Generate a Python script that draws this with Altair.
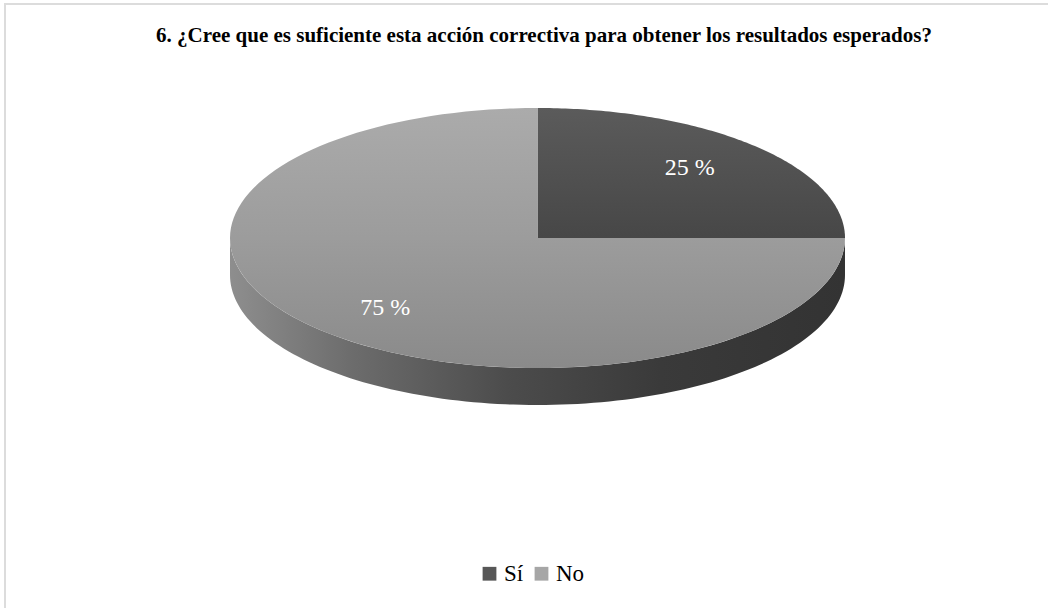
import altair as alt
import pandas as pd

# ---- data ----
title_text = "6. ¿Cree que es suficiente esta acción correctiva para obtener los resultados esperados?"
categories = ["Sí", "No"]
values = [25, 75]
legend_colors = ["#575757", "#a6a6a6"]

# ---- geometry of the 3-D pie (pixel-like data space) ----
W, H = 1048, 608
CX, CY, A, B, DEPTH = 537.5, 238, 307.5, 130, 37
N = 120
LX, LY = 0.70, 0.76

xs = alt.Scale(domain=[0, W], nice=False, zero=False)
ys = alt.Scale(domain=[0, H], nice=False, zero=False, reverse=True)

slices = pd.DataFrame({"cat": categories, "pct": values, "ord": list(range(len(categories)))})

base = (
    alt.Chart(slices)
    .transform_window(cum="sum(pct)", sort=[alt.SortField("ord")])
    .transform_calculate(start="datum.cum - datum.pct")
)

grad_top = {
    "Sí": alt.LinearGradient(gradient="linear", x1=0, x2=0, y1=0, y2=1,
                             stops=[alt.GradientStop(color="#5b5b5b", offset=0),
                                    alt.GradientStop(color="#474747", offset=1)]),
    "No": alt.LinearGradient(gradient="linear", x1=0, x2=0, y1=0, y2=1,
                             stops=[alt.GradientStop(color="#ababab", offset=0),
                                    alt.GradientStop(color="#9c9c9c", offset=0.5),
                                    alt.GradientStop(color="#8a8a8a", offset=1)]),
}

# side band (front half of the cylinder)
side = (
    alt.Chart(alt.sequence(0, N + 1, as_="j"))
    .transform_calculate(th=f"PI/2 + PI*datum.j/{N}")
    .transform_calculate(sx=f"{CX} + {A}*sin(datum.th)",
                         sy=f"{CY} - {B}*cos(datum.th)")
    .transform_calculate(sy2=f"datum.sy + {DEPTH}")
    .mark_area(
        color=alt.LinearGradient(gradient="linear", x1=0, x2=1, y1=0, y2=0,
                                 stops=[alt.GradientStop(color="#8e8e8e", offset=0),
                                        alt.GradientStop(color="#6c6c6c", offset=0.2),
                                        alt.GradientStop(color="#4c4c4c", offset=0.45),
                                        alt.GradientStop(color="#3a3a3a", offset=0.7),
                                        alt.GradientStop(color="#333333", offset=1)])
    )
    .encode(x=alt.X("sx:Q", scale=xs, axis=None),
            y=alt.Y("sy:Q", scale=ys, axis=None),
            y2="sy2:Q")
)

# top faces of slices
tops = []
for c in categories:
    t = (
        base.transform_filter(alt.datum.cat == c)
        .transform_calculate(k=f"sequence(-1, {N + 1})")
        .transform_flatten(["k"])
        .transform_calculate(ang=f"datum.k < 0 ? 0 : (datum.start + datum.pct*datum.k/{N})/100*2*PI")
        .transform_calculate(px=f"datum.k < 0 ? {CX} : {CX} + {A}*sin(datum.ang)",
                             py=f"datum.k < 0 ? {CY} : {CY} - {B}*cos(datum.ang)")
        .mark_line(fill=grad_top[c], strokeWidth=0, interpolate="linear")
        .encode(x=alt.X("px:Q", scale=xs, axis=None),
                y=alt.Y("py:Q", scale=ys, axis=None),
                order="k:Q")
    )
    tops.append(t)

labels = (
    base.transform_calculate(mid="(datum.start + datum.pct/2)/100*2*PI",
                             label="datum.pct + ' %'")
    .transform_calculate(lx=f"{CX} + {LX}*{A}*sin(datum.mid)",
                         ly=f"{CY} - {LY}*{B}*cos(datum.mid)")
    .mark_text(font="Liberation Serif", fontSize=24, color="white")
    .encode(x=alt.X("lx:Q", scale=xs, axis=None),
            y=alt.Y("ly:Q", scale=ys, axis=None),
            text="label:N")
)

legend_layer = (
    alt.Chart(slices)
    .mark_square(opacity=0, size=1)
    .encode(
        x=alt.value(0), y=alt.value(0),
        color=alt.Color("cat:N",
                        scale=alt.Scale(domain=categories, range=legend_colors),
                        sort=categories,
                        legend=alt.Legend(title=None, orient="none", direction="horizontal",
                                          legendX=478, legendY=562, padding=0,
                                          symbolType="square", symbolSize=190,
                                          symbolOpacity=1, symbolStrokeWidth=0,
                                          labelFont="Liberation Serif", labelFontSize=23,
                                          labelColor="#000000", labelOffset=3,
                                          columnPadding=6)),
    )
)

frame = (
    alt.Chart(pd.DataFrame({"f": [0]}))
    .mark_rect(fillOpacity=0, stroke="#dcdcdc", strokeWidth=2)
    .encode(x=alt.value(5), x2=alt.value(1070), y=alt.value(4), y2=alt.value(630))
)

title = (
    alt.Chart(pd.DataFrame({"t": [title_text]}))
    .mark_text(font="Liberation Serif", fontWeight="bold", fontSize=21, color="#000000")
    .encode(text="t:N", x=alt.value(544), y=alt.value(36))
)

chart = (
    alt.layer(frame, side, *tops, labels, legend_layer, title)
    .properties(width=W, height=H, autosize=alt.AutoSizeParams(type="none"), padding=0)
    .configure_view(stroke=None)
)

chart.save("out.html", embed_options={"renderer": "svg", "actions": False})
